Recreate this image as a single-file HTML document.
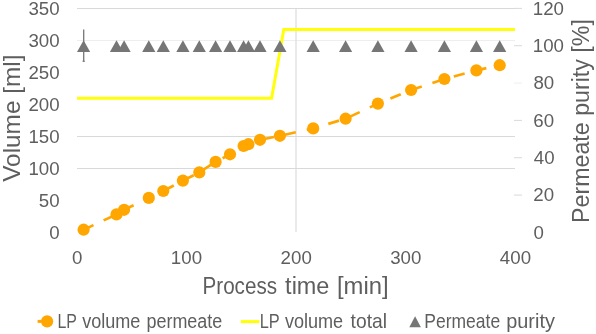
<!DOCTYPE html>
<html><head><meta charset="utf-8"><style>
html,body{margin:0;padding:0;background:#fff;width:596px;height:334px;overflow:hidden;}
svg{display:block;}
.tx{font-family:"Liberation Sans",sans-serif;fill:#5E5E5E;}
</style></head><body>
<svg width="596" height="334" viewBox="0 0 596 334">
<line x1="77" y1="8.5" x2="515" y2="8.5" stroke="#D9D9D9" stroke-width="1"/>
<line x1="77" y1="40.5" x2="515" y2="40.5" stroke="#EEEEEE" stroke-width="1"/>
<line x1="77" y1="136.5" x2="515" y2="136.5" stroke="#D9D9D9" stroke-width="1"/>
<line x1="77" y1="168.5" x2="515" y2="168.5" stroke="#D9D9D9" stroke-width="1"/>
<line x1="296" y1="8" x2="296" y2="232" stroke="#DCDCDC" stroke-width="1.2"/>
<line x1="514" y1="8.40" x2="522" y2="8.40" stroke="#D9D9D9" stroke-width="1"/>
<line x1="514" y1="45.73" x2="522" y2="45.73" stroke="#D9D9D9" stroke-width="1"/>
<line x1="514" y1="83.07" x2="522" y2="83.07" stroke="#EEEEEE" stroke-width="1"/>
<line x1="514" y1="120.40" x2="522" y2="120.40" stroke="#D9D9D9" stroke-width="1"/>
<line x1="514" y1="157.73" x2="522" y2="157.73" stroke="#D9D9D9" stroke-width="1"/>
<line x1="514" y1="195.07" x2="522" y2="195.07" stroke="#D9D9D9" stroke-width="1"/>
<polyline points="77,98.2 271.6,98.2 283.8,29.5 515,29.5" fill="none" stroke="#FFFF0A" stroke-width="3" stroke-linejoin="miter"/>
<polyline points="83.6,229.7 116.5,214.4 124.1,209.8 148.8,197.9 163.3,191 182.9,180.6 199.3,172.4 215.6,161.9 230,154.3 243.6,146 248.4,144.2 260,139.8 279.9,135.8 313.2,128.4 345.6,118.7 377.9,103.6 411.1,90 444.4,79 476.4,70.4 499.7,65.2" fill="none" stroke="#FFA700" stroke-width="2.7" stroke-dasharray="11.2 11.2" stroke-dashoffset="0.3"/>
<circle cx="83.6" cy="229.7" r="6.1" fill="#FFA700"/>
<circle cx="116.5" cy="214.4" r="6.1" fill="#FFA700"/>
<circle cx="124.1" cy="209.8" r="6.1" fill="#FFA700"/>
<circle cx="148.8" cy="197.9" r="6.1" fill="#FFA700"/>
<circle cx="163.3" cy="191" r="6.1" fill="#FFA700"/>
<circle cx="182.9" cy="180.6" r="6.1" fill="#FFA700"/>
<circle cx="199.3" cy="172.4" r="6.1" fill="#FFA700"/>
<circle cx="215.6" cy="161.9" r="6.1" fill="#FFA700"/>
<circle cx="230" cy="154.3" r="6.1" fill="#FFA700"/>
<circle cx="243.6" cy="146" r="6.1" fill="#FFA700"/>
<circle cx="248.4" cy="144.2" r="6.1" fill="#FFA700"/>
<circle cx="260" cy="139.8" r="6.1" fill="#FFA700"/>
<circle cx="279.9" cy="135.8" r="6.1" fill="#FFA700"/>
<circle cx="313.2" cy="128.4" r="6.1" fill="#FFA700"/>
<circle cx="345.6" cy="118.7" r="6.1" fill="#FFA700"/>
<circle cx="377.9" cy="103.6" r="6.1" fill="#FFA700"/>
<circle cx="411.1" cy="90" r="6.1" fill="#FFA700"/>
<circle cx="444.4" cy="79" r="6.1" fill="#FFA700"/>
<circle cx="476.4" cy="70.4" r="6.1" fill="#FFA700"/>
<circle cx="499.7" cy="65.2" r="6.1" fill="#FFA700"/>
<line x1="83.7" y1="29.6" x2="83.7" y2="61.7" stroke="#767676" stroke-width="1.3"/>
<line x1="82.5" y1="61.2" x2="84.9" y2="61.2" stroke="#767676" stroke-width="1"/>
<polygon points="77.0,51.9 90.2,51.9 83.6,40.3" fill="#767676"/>
<polygon points="109.9,51.9 123.1,51.9 116.5,40.3" fill="#767676"/>
<polygon points="117.5,51.9 130.7,51.9 124.1,40.3" fill="#767676"/>
<polygon points="142.2,51.9 155.4,51.9 148.8,40.3" fill="#767676"/>
<polygon points="156.7,51.9 169.9,51.9 163.3,40.3" fill="#767676"/>
<polygon points="176.3,51.9 189.5,51.9 182.9,40.3" fill="#767676"/>
<polygon points="192.7,51.9 205.9,51.9 199.3,40.3" fill="#767676"/>
<polygon points="209.0,51.9 222.2,51.9 215.6,40.3" fill="#767676"/>
<polygon points="223.4,51.9 236.6,51.9 230.0,40.3" fill="#767676"/>
<polygon points="237.0,51.9 250.2,51.9 243.6,40.3" fill="#767676"/>
<polygon points="241.8,51.9 255.0,51.9 248.4,40.3" fill="#767676"/>
<polygon points="253.4,51.9 266.6,51.9 260.0,40.3" fill="#767676"/>
<polygon points="273.3,51.9 286.5,51.9 279.9,40.3" fill="#767676"/>
<polygon points="306.6,51.9 319.8,51.9 313.2,40.3" fill="#767676"/>
<polygon points="339.0,51.9 352.2,51.9 345.6,40.3" fill="#767676"/>
<polygon points="371.3,51.9 384.5,51.9 377.9,40.3" fill="#767676"/>
<polygon points="404.5,51.9 417.7,51.9 411.1,40.3" fill="#767676"/>
<polygon points="437.8,51.9 451.0,51.9 444.4,40.3" fill="#767676"/>
<polygon points="469.8,51.9 483.0,51.9 476.4,40.3" fill="#767676"/>
<polygon points="493.1,51.9 506.3,51.9 499.7,40.3" fill="#767676"/>
<text class="tx" font-size="18.7" transform="translate(28.42,14.80) scale(1.0000,1)">350</text>
<text class="tx" font-size="18.7" transform="translate(28.42,46.80) scale(1.0000,1)">300</text>
<text class="tx" font-size="18.7" transform="translate(28.42,78.80) scale(1.0000,1)">250</text>
<text class="tx" font-size="18.7" transform="translate(28.42,110.80) scale(1.0000,1)">200</text>
<text class="tx" font-size="18.7" transform="translate(28.42,142.80) scale(1.0000,1)">150</text>
<text class="tx" font-size="18.7" transform="translate(28.42,174.80) scale(1.0000,1)">100</text>
<text class="tx" font-size="18.7" transform="translate(38.82,206.80) scale(1.0000,1)">50</text>
<text class="tx" font-size="18.7" transform="translate(49.21,238.80) scale(1.0000,1)">0</text>
<text class="tx" font-size="18.7" transform="translate(532.78,14.80) scale(1.0000,1)">120</text>
<text class="tx" font-size="18.7" transform="translate(532.78,52.13) scale(1.0000,1)">100</text>
<text class="tx" font-size="18.7" transform="translate(533.38,89.47) scale(1.0000,1)">80</text>
<text class="tx" font-size="18.7" transform="translate(533.26,126.80) scale(1.0000,1)">60</text>
<text class="tx" font-size="18.7" transform="translate(533.79,164.13) scale(1.0000,1)">40</text>
<text class="tx" font-size="18.7" transform="translate(533.26,201.47) scale(1.0000,1)">20</text>
<text class="tx" font-size="18.7" transform="translate(533.45,238.80) scale(1.0000,1)">0</text>
<text class="tx" font-size="18.7" transform="translate(72.08,263.60) scale(1.0000,1)">0</text>
<text class="tx" font-size="18.7" transform="translate(170.85,263.60) scale(1.0000,1)">100</text>
<text class="tx" font-size="18.7" transform="translate(280.59,263.60) scale(1.0000,1)">200</text>
<text class="tx" font-size="18.7" transform="translate(390.20,263.60) scale(1.0000,1)">300</text>
<text class="tx" font-size="18.7" transform="translate(499.85,263.60) scale(1.0000,1)">400</text>
<text class="tx" font-size="24.5" transform="translate(202.51,293.60) scale(0.8423,1)">Process</text>
<text class="tx" font-size="24.5" transform="translate(285.12,293.60) scale(0.9568,1)">time</text>
<text class="tx" font-size="24.5" transform="translate(336.98,293.60) scale(0.9740,1)">[min]</text>
<text class="tx" font-size="24.5" transform="translate(20.40,181.80) rotate(-90) scale(0.9950,1)">Volume [ml]</text>
<text class="tx" font-size="24.5" transform="translate(589.00,222.90) rotate(-90) scale(0.9471,1)">Permeate purity [%]</text>
<line x1="37.6" y1="321.4" x2="47" y2="321.4" stroke="#FFA700" stroke-width="3"/>
<circle cx="47.1" cy="321.4" r="6.1" fill="#FFA700"/>
<text class="tx" font-size="20.2" transform="translate(57.50,327.60) scale(0.7872,1)">LP</text>
<text class="tx" font-size="20.2" transform="translate(82.13,327.60) scale(0.8947,1)">volume</text>
<text class="tx" font-size="20.2" transform="translate(146.45,327.60) scale(0.8888,1)">permeate</text>
<line x1="240.7" y1="321.6" x2="259.4" y2="321.6" stroke="#FFFF0A" stroke-width="3"/>
<text class="tx" font-size="20.2" transform="translate(259.66,327.60) scale(0.8099,1)">LP</text>
<text class="tx" font-size="20.2" transform="translate(284.93,327.60) scale(0.8947,1)">volume</text>
<text class="tx" font-size="20.2" transform="translate(350.59,327.60) scale(0.9529,1)">total</text>
<polygon points="409.3,327.2 420.9,327.2 415.1,316.3" fill="#767676"/>
<text class="tx" font-size="20.2" transform="translate(424.37,327.60) scale(0.8655,1)">Permeate</text>
<text class="tx" font-size="20.2" transform="translate(506.23,327.60) scale(0.9859,1)">purity</text>
</svg>
</body></html>
